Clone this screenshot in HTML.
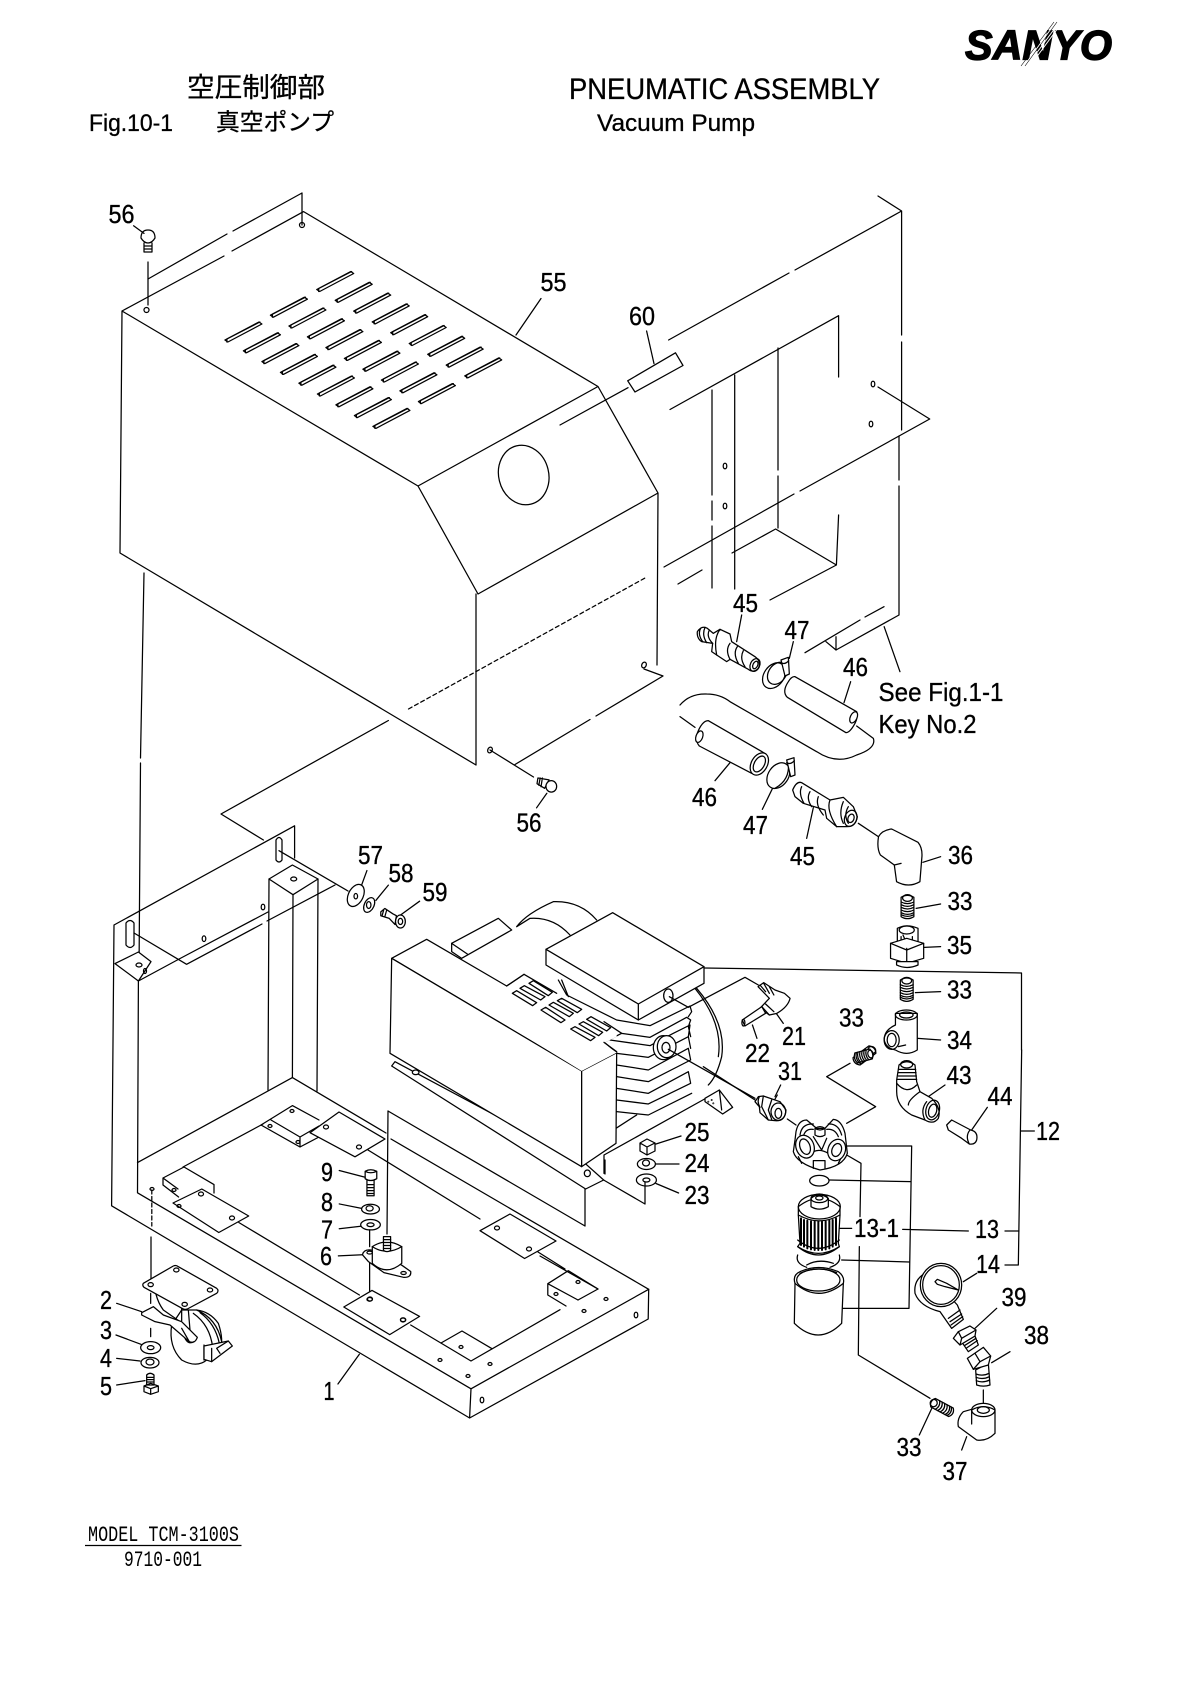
<!DOCTYPE html>
<html><head><meta charset="utf-8"><title>Pneumatic Assembly</title>
<style>
html,body{margin:0;padding:0;background:#fff}
svg{display:block}
svg *{vector-effect:non-scaling-stroke}
.l{fill:none;stroke:#000;stroke-width:1.25;stroke-linejoin:round;stroke-linecap:round}
.f{fill:#fff;stroke:#000;stroke-width:1.25;stroke-linejoin:round}
.t{font-family:"Liberation Sans",sans-serif;font-size:26px;fill:#000;text-anchor:middle;stroke:#000;stroke-width:.35}
.h{font-family:"Liberation Sans","Noto Sans CJK JP",sans-serif;fill:#000;stroke:#000;stroke-width:.3}
.m{font-family:"Liberation Mono",serif;fill:#000}
</style></head><body>
<svg width="1190" height="1682" viewBox="0 0 1190 1682" xmlns="http://www.w3.org/2000/svg">
<rect width="1190" height="1682" fill="#fff"/>
<defs>
<g id="s"><path class="f" d="M-18,9 L16,-9 L19,-7 L-15,11 Z"/><path class="l" d="M-16,11 L-16,8 L17,-9"/></g>
<g id="th"><path class="f" d="M-17,-30 Q0,-42 17,-30 L17,28 Q0,40 -17,28 Z"/><ellipse class="l" cx="0" cy="-28" rx="13" ry="10"/><path class="l" d="M-17,-16 Q0,-6 17,-16 M-17,-8 Q0,2 17,-8 M-17,0 Q0,10 17,0 M-17,8 Q0,18 17,8 M-17,16 Q0,26 17,16 M-17,22 Q0,32 17,22"/></g>
</defs>

<!-- header -->
<text class="h" x="187" y="97" font-size="27" textLength="138" lengthAdjust="spacingAndGlyphs">空圧制御部</text>
<text class="h" x="569" y="99" font-size="29.5" textLength="311" lengthAdjust="spacingAndGlyphs">PNEUMATIC ASSEMBLY</text>
<text class="h" x="89" y="131" font-size="24" textLength="84" lengthAdjust="spacingAndGlyphs">Fig.10-1</text>
<text class="h" x="216" y="130" font-size="23.5" textLength="118" lengthAdjust="spacingAndGlyphs">真空ポンプ</text>
<text class="h" x="597" y="131" font-size="24" textLength="158" lengthAdjust="spacingAndGlyphs">Vacuum Pump</text>
<text class="h" x="965" y="59.5" font-size="42" font-weight="bold" font-style="italic" textLength="147" lengthAdjust="spacingAndGlyphs" style="stroke-width:1.3">SANYO</text>
<path d="M1024,66 L1056,22 M1027,66 L1058,24 M1030,66 L1058,28" stroke="#fff" stroke-width="1" fill="none"/>
<path d="M1021,66 L1054,22 M1025,66 L1057,22" stroke="#000" stroke-width=".6" fill="none"/>

<!-- cover 55 -->
<g class="l">
<path class="l" d="M302,193 V225 M302,193 L233,231 M227,234 L148,279"/>
<path class="l" d="M122,311 L224,256 M232,251 L303.6,211.6 L598,386.5 L418,486 L122,311 L120,553 L476,765 V594 M418,486 L478,594 M598,386.5 L658,493 L478,594 M658,493 L657,665"/>
<path class="l" d="M644,669 L663,676 L596,716 M590,719.5 L515,764.5 M490,750 L533.5,777"/>
<path class="l" d="M408.5,709 L645,578" stroke-dasharray="4 3"/>
<path class="l" d="M388.4,720.5 L221,814 L263.4,840"/>
<path class="l" d="M148,262 V305"/>
<ellipse class="l" cx="302" cy="225" rx="2.5" ry="2.5"/>
<ellipse class="l" cx="146.5" cy="310" rx="2.5" ry="2.5"/>
<ellipse class="l" cx="490" cy="750" rx="2.2" ry="3" transform="rotate(25 490 750)"/>
<ellipse class="l" cx="644" cy="665" rx="2.2" ry="3" transform="rotate(25 644 665)"/>
<ellipse class="l" cx="523.7" cy="475" rx="25" ry="30" transform="rotate(-14 523.7 475)"/>
<path class="l" d="M541,298.5 L516,335 M646.6,331 L654,363.6 M133.6,225.8 L144,233.4"/>
<path class="l" d="M627.7,380.8 L675.5,352.8 L683,365.5 L635,392 Z M560,425 L628,387.7"/>
<!-- screw 56 top -->
<path class="l" d="M141,238 Q141,230 148,230 Q155,230 155,238 Q152,243 148,243 Q144,243 141,238 Z"/>
<path class="l" d="M144,243 V252 H152 V243 M144,246 H152 M144,249 H152"/>
</g>
<!-- louvers -->
<g>
<use href="#s" x="334.7" y="280.5"/><use href="#s" x="353.2" y="291.3"/><use href="#s" x="371.7" y="302.1"/><use href="#s" x="390.2" y="312.9"/><use href="#s" x="408.7" y="323.7"/><use href="#s" x="427.2" y="334.5"/><use href="#s" x="445.7" y="345.3"/><use href="#s" x="464.2" y="356.1"/><use href="#s" x="482.7" y="366.9"/>
<use href="#s" x="288.4" y="306.2"/><use href="#s" x="306.9" y="317"/><use href="#s" x="325.4" y="327.8"/><use href="#s" x="343.9" y="338.6"/><use href="#s" x="362.4" y="349.4"/><use href="#s" x="380.9" y="360.2"/><use href="#s" x="399.4" y="371"/><use href="#s" x="417.9" y="381.8"/><use href="#s" x="436.4" y="392.6"/>
<use href="#s" x="242.9" y="331"/><use href="#s" x="261.4" y="341.8"/><use href="#s" x="279.9" y="352.6"/><use href="#s" x="298.4" y="363.4"/><use href="#s" x="316.9" y="374.2"/><use href="#s" x="335.4" y="385"/><use href="#s" x="353.9" y="395.8"/><use href="#s" x="372.4" y="406.6"/><use href="#s" x="390.9" y="417.4"/>
</g>

<!-- right panel -->
<path class="l" d="M878,196 L901.6,211 V335 M901.6,342 V430 M899,436 V480 M899,486 V615 L836,650 M901.6,211 L795,270 M789,273 L668.6,340"/>
<path class="l" d="M805,652.7 L860,620 M865,617 L884,606.7 M836,636.7 V650 M826,641.7 L836,650"/>
<path class="l" d="M838.6,315.7 L670,409.5 M838.6,315.7 V377 M838.6,515 L836.4,565 L775.6,529 L732,553 M678,584 L702,570 M836.4,565 L770,600"/>
<path class="l" d="M778,348 V470 M778,476 V528 M734.7,375 V589 M712,390 V495 M712,501 V520 M712,526 V588"/>
<path class="l" d="M878,387 L929.7,419 L800,491 M794,494 L664,567"/>
<g class="l"><ellipse cx="873" cy="384" rx="1.8" ry="2.8"/><ellipse cx="871" cy="424" rx="1.8" ry="2.8"/><ellipse cx="725" cy="466" rx="1.8" ry="2.8"/><ellipse cx="725" cy="506" rx="1.8" ry="2.8"/></g>

<!-- main frame -->
<g>
<path class="l" d="M144,573 L140.5,758 M140.5,763 L139,975"/>
<path class="l" d="M114,925 L294.6,825.8 V858 M114,925 L111.6,1205.8 L469.6,1418 L648.2,1319 L648.7,1289.3 L471,1388.8 L137.5,1192.8 L138.4,981 M471,1388.8 L469.6,1418"/>
<path class="f" d="M115,963.6 L138.4,952 L151,961.6 L138.4,981 Z"/>
<ellipse class="l" cx="139" cy="965" rx="3" ry="2"/><ellipse class="l" cx="145" cy="971" rx="1.5" ry="2.5"/>
<path class="l" d="M138.4,981 L181,958 L268,912 M134,933 L186.6,964.3 L262,924 M267,921 L335,885 M279,850.7 L348,891"/>
<path class="l" d="M126,945 V923 Q130,918 134,923 V945 Q130,950 126,945 Z M276,860 V840 Q279,835 282,840 V860 Q279,864 276,860 Z"/>
<path class="f" d="M269,879 L292.4,865 L318,879 L293,894.7 Z"/>
<ellipse class="l" cx="293.7" cy="879" rx="3" ry="2"/>
<path class="l" d="M269,879 L268,1090 M293,894.7 L292.4,1077.6 M318,879 L317,1091"/>
<g class="l"><ellipse cx="263" cy="907" rx="1.8" ry="2.8"/><ellipse cx="204" cy="938.7" rx="1.8" ry="2.8"/></g>
<path class="l" d="M292.4,1077.6 L137.5,1162.6 M292.4,1077.6 L386,1133 M391,1139 L648.7,1289.3"/>
<!-- inner opening -->
<path class="l" d="M183,1167 L263,1124 M238.8,1222.5 L359.4,1295 M410.7,1325 L471,1361 L560,1309.7 M578,1300 L598,1289 L540,1256 M368,1150 L480,1219 M538,1252 L565,1269"/>
<path class="f" d="M480,1230.7 L510,1214 L556,1241 L524.6,1258.5 Z M173,1203 L201.8,1189 L248.7,1216 L218.8,1232.5 Z"/>
<path class="l" d="M163,1178 L184,1167 L214,1184.6 V1193 M163,1178 V1185 L178.6,1197 M163,1178 L178,1189"/>
<path class="l" d="M261,1125 L292.4,1105.6 L319,1120 M261,1125 L300,1147 V1137 L271,1120 M300,1147 L319,1137 M300,1137 L319,1126"/>
<path class="f" d="M310,1132.7 L339,1112 L385,1139 L355,1156.8 Z M343.8,1307 L372,1290.4 L419.6,1316.4 L389.7,1334.6 Z"/>
<path class="l" d="M441,1343 L462,1331 L492,1348.7 M547.8,1283.7 L568.3,1270.7 L598,1289 M547.8,1283.7 V1295 L566,1306 M547.8,1283.7 L578,1300"/>
<!-- frame holes -->
<g class="l">
<ellipse cx="370" cy="1299" rx="2.5" ry="2"/><ellipse cx="403" cy="1320" rx="2.5" ry="2"/>
<ellipse cx="497" cy="1228" rx="2.5" ry="2"/><ellipse cx="529" cy="1249" rx="2.5" ry="2"/>
<ellipse cx="232" cy="1218" rx="2.5" ry="2"/><ellipse cx="201" cy="1194" rx="2.5" ry="2"/><ellipse cx="179" cy="1206" rx="2" ry="1.5"/>
<ellipse cx="359" cy="1147" rx="2.5" ry="2"/><ellipse cx="326" cy="1127" rx="2.5" ry="2"/><ellipse cx="292" cy="1111" rx="2" ry="1.5"/><ellipse cx="270" cy="1126" rx="2" ry="1.5"/><ellipse cx="298" cy="1142" rx="2" ry="1.5"/>
<ellipse cx="461" cy="1347" rx="2" ry="1.5"/><ellipse cx="440" cy="1360" rx="2" ry="1.5"/><ellipse cx="490" cy="1364" rx="2" ry="1.5"/><ellipse cx="468" cy="1376" rx="2" ry="1.5"/>
<ellipse cx="578" cy="1282" rx="2" ry="1.5"/><ellipse cx="556" cy="1294" rx="2" ry="1.5"/><ellipse cx="606" cy="1299" rx="2" ry="1.5"/><ellipse cx="584" cy="1311" rx="2" ry="1.5"/>
<ellipse cx="636" cy="1315" rx="1.8" ry="2.8"/><ellipse cx="482" cy="1400" rx="1.8" ry="2.8"/>
<ellipse cx="152" cy="1189" rx="2" ry="1.5"/><ellipse cx="174" cy="1190" rx="2" ry="1.5"/>
</g>
<path class="l" d="M151.8,1190 V1226" stroke-dasharray="4 2.5"/>
<path class="l" d="M151,1237 V1282"/>
</g>

<!-- sheet lines under motor -->
<path class="l" d="M388,1111 L387,1234 M388,1111 L585,1226 V1186 M603.6,1180 L645,1204 V1182 M605,1160 V1174"/>

<!-- caster -->
<g transform="translate(100,1260) scale(.33333)">
<path class="l" d="M152,100 V130 M152,205 V230"/>
<path class="f" d="M215,195 Q205,260 245,300 Q290,325 320,300 L360,270 Q372,240 355,190 Q330,155 290,150 L245,150 Z"/>
<path class="l" d="M168,103 Q175,130 190,150 L240,185 M245,145 V182 M265,150 L270,210 M280,160 Q330,195 338,262 M300,158 Q345,190 358,250 M290,150 Q350,175 365,245 M312,255 V300"/>
<path class="f" d="M125,158 L160,140 L190,165 L245,185 L292,232 Q285,252 268,245 L210,195 L165,185 L125,165 Z"/>
<path class="l" d="M245,205 L268,245 M255,235 Q265,255 282,245"/>
<path class="f" d="M312,258 L385,243 L397,258 L335,305 L312,298 Z"/>
<path class="l" d="M350,265 L385,243 M350,265 L360,280 M335,265 V305"/>
<path class="f" d="M130,70 L220,18 Q228,14 235,20 L350,85 Q358,92 350,100 L262,147 Q255,150 248,146 L132,82 Q126,76 130,70 Z"/>
<g class="l">
<ellipse cx="152" cy="74" rx="8" ry="6"/><ellipse cx="229" cy="30" rx="8" ry="6"/><ellipse cx="330" cy="90" rx="8" ry="6"/><ellipse cx="254" cy="133" rx="8" ry="6"/>
<path d="M50,130 L125,155 M48,225 L123,253 M50,295 L120,303 M50,375 L135,362"/>
<ellipse cx="152" cy="263" rx="30" ry="18"/><ellipse cx="152" cy="263" rx="10" ry="6"/>
<ellipse cx="150" cy="308" rx="27" ry="16"/><ellipse cx="150" cy="306" rx="12" ry="9"/>
<path d="M140,345 Q150,335 162,345 V375 H140 Z M140,352 H162 M140,359 H162 M140,366 H162"/>
<path d="M132,378 L152,370 L175,378 V395 L152,403 L132,395 Z M132,378 L152,386 L175,378 M152,386 V403"/>
</g>
</g>

<!-- 1, 9,8,7,6 -->
<g transform="translate(0,1100) scale(.4464,.3712)">
<g class="l">
<path d="M757,765 L805,685"/>
<path d="M818,192 Q830,184 844,192 V212 Q830,222 818,212 Z M818,192 Q830,200 844,192 M822,215 V258 H838 V215 M822,228 H838 M822,236 H838 M822,244 H838 M822,252 H838"/>
<ellipse cx="830" cy="294" rx="20" ry="13"/><ellipse cx="828" cy="292" rx="8" ry="7"/>
<ellipse cx="830" cy="336" rx="22" ry="14"/><ellipse cx="830" cy="336" rx="8" ry="5"/>
<path d="M760,190 L818,208 M760,280 L810,292 M760,347 L808,340 M758,420 L812,417 M828,350 V395 M828,420 V515"/>
</g>
<path class="f" d="M812,417 Q815,400 835,405 L900,445 L920,462 Q922,478 905,478 L860,465 L825,435 Z"/>
<path class="f" d="M834,395 Q866,370 900,395 V440 Q866,475 834,440 Z"/>
<path class="l" d="M834,395 Q866,420 900,395"/>
<path class="f" d="M859,368 H875 V405 Q867,412 859,405 Z"/>
<path class="l" d="M859,376 H875 M859,384 H875 M859,392 H875 M859,400 H875"/>
<ellipse class="l" cx="828" cy="411" rx="6" ry="4"/><ellipse class="l" cx="904" cy="466" rx="6" ry="4"/>
<ellipse class="l" cx="828" cy="537" rx="6" ry="5"/><ellipse class="l" cx="903" cy="592" rx="6" ry="5"/>
</g>

<!-- motor -->
<g transform="translate(380,880) scale(.33333)">
<path d="M410,140 Q440,100 520,65 Q600,62 650,120 L570,170 Z" fill="#fff"/>
<path class="l" d="M410,140 Q440,100 520,65 Q600,62 650,120 M410,140 L450,115 Q520,110 570,165"/>
<path class="f" d="M215,190 L355,115 L395,150 L245,235 L215,215 Z"/>
<path class="l" d="M215,190 L262,222"/>
<!-- bell -->
<path class="l" d="M950,325 Q1040,430 1025,530 Q1010,590 985,615 M945,325 Q1030,430 1015,530"/>
<!-- fins -->
<path d="M530,290 L560,345 L710,420 L810,437 L925,375 L935,640 L810,705 L710,690 V520 Z" fill="#fff"/>
<path class="l" d="M535,300 L560,345 L710,420 L810,437 L930,378 L935,395 L925,410 M545,300 L565,350"/>
<path class="l" d="M725,460 L810,472 L920,412 L932,420 L925,440 M672,487 L725,460 M690,480 L810,497 L880,460 L930,435 L925,470 L805,532 L710,520 M710,555 L805,570 L925,505 L932,540 L805,605 L710,590 M710,625 L805,640 L925,575 L932,610 L805,672 L710,660 M710,695 L805,705 L935,640 M925,470 L932,505 M925,440 L932,470"/>
<!-- foot / base -->
<path class="l" d="M672,825 L990,648 M672,825 V880 M708,745 L770,705"/>
<path class="f" d="M975,655 L1018,630 L1058,682 L1028,702 L975,665 Z"/>
<path class="l" d="M1018,630 L1025,690"/>
<!-- flange -->
<path class="f" d="M45,545 L35,558 L617,927 L671,900 L615,850 Z"/>
<ellipse class="f" cx="107" cy="577" rx="10" ry="7"/>
<!-- cover -->
<path class="f" d="M35,235 L140,178 L380,318 L432,283 L710,518 L605,573 Z"/>
<path class="f" d="M35,235 L605,573 V860 L30,520 Z"/>
<path class="f" d="M605,573 L710,518 L708,790 L605,860 Z"/>
<ellipse class="f" cx="622" cy="880" rx="9" ry="10"/>
<path d="M432,283 L710,440 V470 L670,490 L710,518 L605,573 L375,432 Z" fill="#fff"/>
<path class="l" d="M432,283 L530,340 M672,425 L725,460 M380,318 L432,283 M672,487 L710,515"/>
<!-- vents -->
<path class="f" d="M397,340 L410,332 L470,368 L458,377 Z M420,325 L433,317 L495,350 L482,360 Z M447,310 L460,302 L517,337 L505,347 Z M483,390 L497,382 L555,420 L543,428 Z M507,375 L520,367 L580,400 L568,410 Z M532,362 L545,355 L605,388 L592,398 Z M572,447 L585,440 L645,472 L632,482 Z M597,432 L610,425 L668,457 L656,467 Z M620,418 L633,410 L692,443 L680,453 Z"/>
<!-- control box -->
<path class="f" d="M498,208 L698,98 L972,260 V310 L775,420 L498,255 Z"/>
<path class="l" d="M498,208 L775,372 L972,260 M775,372 V420"/>
<ellipse class="f" cx="865" cy="347" rx="14" ry="20"/>
<path class="l" d="M868,350 L925,382 L1095,292 L1135,315"/>
<ellipse class="f" cx="850" cy="503" rx="30" ry="36"/><ellipse class="f" cx="860" cy="500" rx="28" ry="33"/><ellipse class="l" cx="858" cy="503" rx="12" ry="16"/>
<path class="l" d="M865,508 L1125,655"/>
<circle class="l" cx="985" cy="665" r="1"/><circle class="l" cx="1000" cy="670" r="1"/><circle class="l" cx="995" cy="660" r="1"/>
</g>

<!-- 56 lower, 57,58,59 -->
<g transform="translate(0,600) scale(.4464,.3827)">
<g class="l">
<path d="M1225,505 L1202,543 M822,707 L810,745 M870,745 L842,785 M940,787 L895,825"/>
<path d="M1205,465 L1230,470 L1220,492 L1203,480 Z M1210,465 L1207,484 M1215,465 L1212,488"/>
<ellipse class="f" cx="1235" cy="487" rx="12" ry="15"/>
<ellipse cx="797" cy="772" rx="17" ry="30" transform="rotate(20 797 772)"/><ellipse cx="797" cy="774" rx="4" ry="7"/>
<ellipse cx="827" cy="797" rx="11" ry="20" transform="rotate(20 827 797)"/><ellipse cx="826" cy="797" rx="5" ry="9"/>
<path d="M853,815 L862,806 L880,820 L888,825 L885,848 L872,832 L853,825 Z M860,808 L856,825 M866,811 L862,828"/>
<ellipse class="f" cx="897" cy="840" rx="11" ry="17"/><ellipse cx="897" cy="840" rx="5" ry="8"/>
</g>
</g>

<!-- 12 bracket top -->
<path class="l" d="M704,968 L1021.5,973 V1050"/>

<!-- hoses / 45 / 47 -->
<g transform="translate(680,610) scale(.33333)">
<g class="l">
<path d="M185,15 L170,95 M340,95 L328,145 M512,215 L492,278 M150,458 L105,512 M280,530 L247,598 M400,593 L380,685 M535,640 L595,680 M0,320 L45,352"/>
<path d="M0,285 Q30,250 80,252 Q120,252 150,275 L410,425 Q470,465 530,435 Q590,415 580,385 L530,348"/>
<!-- 45 top -->
<path class="f" d="M52,65 Q65,45 82,55 L100,70 L120,58 L150,72 L155,95 L225,140 Q245,155 235,175 Q222,190 205,178 L150,148 L140,155 L110,135 L95,125 L98,100 L65,95 Q50,85 52,65 Z"/>
<path d="M62,55 Q52,72 68,95 M75,52 Q65,75 80,98 M88,60 Q78,80 98,100 M120,58 Q100,85 110,135 M150,100 Q135,120 150,148 M172,110 Q158,130 175,160 M190,122 Q178,145 195,170"/>
<ellipse cx="225" cy="165" rx="14" ry="20" transform="rotate(25 225 165)"/><ellipse cx="226" cy="165" rx="7" ry="12" transform="rotate(25 226 165)"/>
<!-- clamp top -->
<ellipse class="f" cx="282" cy="197" rx="30" ry="42" transform="rotate(35 282 197)"/><ellipse cx="292" cy="190" rx="26" ry="36" transform="rotate(35 292 190)"/>
<path class="f" d="M303,150 L325,142 L328,192 L315,198 Z"/>
<path d="M303,158 Q315,165 326,152"/>
<!-- hose upper -->
<path class="f" d="M345,200 L530,305 Q535,320 525,340 Q510,368 498,368 L322,262 Q305,245 325,215 Q335,198 345,200 Z"/>
<ellipse class="f" cx="521" cy="322" rx="10" ry="18" transform="rotate(25 521 322)"/>
<!-- hose lower -->
<path class="f" d="M85,332 L258,432 L215,490 L58,408 Q48,398 50,375 Q65,332 85,332 Z"/>
<ellipse class="f" cx="58" cy="380" rx="10" ry="18" transform="rotate(20 58 380)"/>
<ellipse class="f" cx="238" cy="462" rx="24" ry="36" transform="rotate(30 238 462)"/><ellipse cx="238" cy="462" rx="15" ry="26" transform="rotate(30 238 462)"/>
<!-- clamp lower -->
<ellipse class="f" cx="295" cy="497" rx="30" ry="42" transform="rotate(35 295 497)"/><path d="M285,535 Q330,510 325,460"/>
<path class="f" d="M320,450 L342,443 L345,495 L332,500 Z"/>
<path d="M320,458 Q332,465 343,452"/>
<!-- 45 lower -->
<path class="f" d="M338,540 Q350,512 365,518 L450,570 L490,562 L520,590 L532,620 Q528,650 500,650 L470,650 L440,625 L435,600 L370,580 L345,560 Z"/>
<path d="M365,530 Q355,550 372,580 M390,545 Q378,565 395,590 M415,560 Q405,585 430,615 M450,570 Q438,600 470,650 M490,575 Q475,610 490,640 M505,590 Q490,615 505,640"/>
<ellipse cx="512" cy="625" rx="18" ry="25" transform="rotate(20 512 625)"/><ellipse cx="513" cy="625" rx="9" ry="13" transform="rotate(20 513 625)"/>
</g>
</g>

<!-- fittings right column -->
<g transform="translate(600,600) scale(.37636,.33333)">
<g class="l">
<path d="M858,787 L905,770 M840,925 L905,912 M862,1042 L905,1040 M838,1178 L905,1175 M845,1315 L905,1320 M755,80 L797,215 M465,1235 L487,1270 M405,1275 L417,1315 M480,1455 L465,1490"/>
<path class="f" d="M740,710 Q750,690 775,687 L845,727 Q858,745 855,775 L850,845 Q820,865 788,845 L782,795 L745,765 Q735,745 740,710 Z"/>
<path d="M782,795 L800,790"/>
<!-- 35 -->
<path class="f" d="M790,985 Q815,970 845,985 V1035 L790,1035 Z"/>
<ellipse class="l" cx="815" cy="990" rx="20" ry="12"/>
<path d="M805,1005 L815,1030 M800,1010 V1040 M830,1010 V1040"/>
<path class="f" d="M772,1030 L815,1015 L860,1030 V1075 L815,1090 L772,1075 Z"/>
<path d="M815,1045 V1090 M772,1030 L815,1050 L860,1030"/>
<path class="f" d="M788,1085 L845,1085 V1095 Q815,1110 788,1095 Z"/>
<!-- 34 -->
<path class="f" d="M785,1240 L843,1240 V1350 Q815,1370 785,1350 Q760,1345 755,1320 Q755,1290 785,1275 Z"/>
<ellipse class="l" cx="814" cy="1245" rx="29" ry="15"/><ellipse cx="814" cy="1245" rx="18" ry="9"/>
<ellipse class="l" cx="775" cy="1320" rx="20" ry="28"/><ellipse cx="775" cy="1320" rx="12" ry="20"/>
<path d="M793,1340 L812,1335"/>
<!-- 21/22 -->
<path class="f" d="M420,1160 L435,1148 L465,1170 L490,1180 L505,1195 Q500,1220 470,1240 L450,1245 L425,1225 L450,1195 Z"/>
<path d="M425,1155 L440,1175 M435,1150 L450,1180 M450,1160 L462,1185 M440,1212 L462,1235 M430,1220 L450,1245"/>
<path class="f" d="M430,1220 L378,1260 L385,1278 L440,1240 Z"/>
<ellipse class="l" cx="381" cy="1268" rx="4" ry="10"/>
</g>
<use href="#th" x="817" y="922"/>
<use href="#th" x="815" y="1170"/>
<g transform="translate(702,1367) rotate(50) scale(.85 .95)"><use href="#th"/></g>
</g>

<!-- fittings lower right -->
<g transform="translate(700,1050) scale(.33333)">
<g class="l">
<path d="M450,40 L380,80 L527,170 L440,220 M165,150 L10,50 M262,207 L288,225 M232,135 L215,165 M685,140 L735,105 M815,240 L862,172"/>
<path d="M965,0 L955,645 H915 M957,543 H915 M963,243 H1003"/>
<path d="M440,288 H635 L627,775 H428 M388,390 L632,395 M425,630 L628,636 M412,535 H455 M608,538 L805,543"/>
<path d="M435,312 L483,340 L480,500 M478,590 L475,915 L690,1045"/>
<!-- 31 -->
<path class="f" d="M165,155 L175,140 L190,138 L240,155 L258,180 Q255,215 225,212 L205,210 L180,188 L178,170 Z"/>
<path d="M178,140 Q170,155 180,172 M190,138 L185,170 L205,210 M215,150 L205,180 L215,208"/>
<ellipse cx="235" cy="185" rx="22" ry="26"/><ellipse cx="235" cy="190" rx="10" ry="15"/>
<ellipse cx="358" cy="392" rx="29" ry="16"/>
<!-- element -->
<path class="f" d="M295,470 Q358,420 420,470 V495 L415,580 L418,590 Q355,630 293,590 L300,580 L295,495 Z"/>
<ellipse class="l" cx="358" cy="470" rx="63" ry="37"/>
<path class="f" d="M333,445 Q358,425 385,445 V470 Q358,485 333,470 Z"/><ellipse class="l" cx="358" cy="445" rx="25" ry="13"/><ellipse cx="358" cy="444" rx="11" ry="6"/>
<path d="M295,495 Q358,530 420,495" />
<path d="M303,505 V585 M312,510 V590 M322,512 V595 M333,514 V598 M344,515 V600 M355,515 V600 M366,515 V600 M377,514 V598 M388,512 V595 M398,510 V590 M408,505 V585" stroke-width="2"/>
<path d="M293,570 Q355,620 418,570 M293,590 Q355,640 418,590"/>
<path d="M293,615 Q285,640 320,652 M418,615 Q425,640 390,652 M320,645 Q355,625 400,640"/>
<!-- bowl -->
<path class="f" d="M285,700 Q277,675 300,665 Q355,640 415,665 Q435,680 430,700 L425,820 Q355,890 283,820 Z"/>
<ellipse class="l" cx="355" cy="690" rx="65" ry="33"/>
<path d="M285,700 Q355,760 430,700 M300,670 Q355,645 410,668"/>
<!-- 43 -->
<path class="f" d="M597,45 Q620,25 645,45 L650,95 L660,125 L695,145 Q725,175 715,205 Q700,225 675,210 L635,195 Q590,170 590,125 L590,90 Z"/>
<path d="M597,58 H647 M595,68 H648 M595,78 H649 M592,88 H650 M590,100 Q620,135 650,105 M625,165 Q625,150 660,125 M680,155 Q660,180 675,210"/>
<ellipse cx="620" cy="43" rx="18" ry="11"/>
<ellipse cx="698" cy="180" rx="20" ry="30" transform="rotate(15 698 180)"/><ellipse cx="698" cy="182" rx="12" ry="20" transform="rotate(15 698 182)"/>
<!-- 44 -->
<path class="f" d="M740,225 L755,210 L812,240 Q835,245 830,270 Q825,285 808,282 L785,265 L745,240 Z"/>
<path d="M810,240 Q795,258 808,282"/>
</g>
<g transform="translate(490,18) rotate(75) scale(.9,.8)"><use href="#th"/></g>
</g>

<!-- filter head -->
<g transform="translate(770,1100) scale(.33333)">
<path class="f" d="M75,120 L70,155 Q80,190 150,210 Q220,200 232,160 L225,100 Q215,60 190,58 L165,85 H140 L110,60 Q85,60 78,95 Z"/>
<g class="l">
<path d="M90,105 Q95,70 130,72 M100,110 Q105,85 130,88 M215,105 Q205,70 175,72 M205,110 Q195,85 170,88"/>
<path d="M135,85 Q150,75 165,85 V105 Q150,115 135,105 Z M135,85 Q150,95 165,85"/>
<path d="M130,110 L155,150 M170,115 L155,150 M130,155 Q150,145 175,160"/>
<path d="M130,182 V205 M165,182 V205 M130,182 H165 M85,170 L95,190 M215,170 L205,190"/>
</g>
<ellipse class="f" cx="105" cy="140" rx="27" ry="35" transform="rotate(-20 105 140)"/><ellipse class="l" cx="105" cy="140" rx="15" ry="24" transform="rotate(-20 105 140)"/>
<ellipse class="f" cx="200" cy="150" rx="26" ry="33" transform="rotate(20 200 150)"/><ellipse class="l" cx="200" cy="150" rx="14" ry="20" transform="rotate(20 200 150)"/>
</g>

<!-- gauge and below -->
<g transform="translate(880,1250) scale(.33333)">
<g class="l">
<path d="M250,95 L290,70 M285,235 L350,175 M335,338 L390,305 M160,465 L118,555 M260,560 L245,600 M310,420 V460"/>
<path class="f" d="M135,70 Q100,90 105,130 Q120,170 180,185 L215,235 L250,208 L232,165 L200,130 Z"/>
<path d="M205,205 L240,180 M210,215 L245,192 M213,225 L248,200"/>
<ellipse class="f" cx="183" cy="105" rx="62" ry="65"/><ellipse cx="183" cy="105" rx="55" ry="58"/>
<path d="M165,95 L172,88 L200,100 L235,120 L195,110 L172,103 Z"/>
<!-- 39 -->
<path class="f" d="M248,280 L265,305 L295,285 L285,258 Z"/>
<path d="M253,287 L288,265 M258,295 L292,272"/>
<path class="f" d="M220,265 L240,285 L285,258 L288,240 L270,228 L235,245 Z"/>
<path d="M235,245 L245,265 L240,285 M245,265 L288,240"/>
<!-- 38 -->
<path class="f" d="M287,360 L290,405 Q310,412 330,405 L325,340 Z"/>
<path d="M288,372 Q308,380 327,370 M288,382 Q308,390 328,380 M289,392 Q308,400 329,390"/>
<path class="f" d="M262,325 L310,292 L332,318 L325,345 L280,358 Z"/>
<path d="M285,310 L300,335 L280,358 M300,335 L332,318"/>
<!-- 37 -->
<path class="f" d="M275,480 Q310,460 345,480 V550 Q320,575 290,570 L235,530 Q230,505 250,485 L275,478 Z"/>
<ellipse cx="310" cy="480" rx="35" ry="20"/><ellipse cx="310" cy="480" rx="18" ry="10"/>
<path d="M275,480 V522"/>
</g>
<g transform="translate(187,473) rotate(-62) scale(.85,1.05)"><use href="#th"/></g>
</g>

<!-- 25 24 23 -->
<g class="l">
<path d="M656,1144 L681,1136 M656,1164 L679,1164 M656,1183.5 L678.6,1193"/>
<path d="M640,1143 L647,1139 L655,1143 V1151 L647,1155 L640,1151 Z M640,1143 L647,1147 L655,1143 M647,1147 V1155"/>
<ellipse cx="646.4" cy="1164" rx="9" ry="5.5"/><ellipse cx="646" cy="1163" rx="3.5" ry="3"/>
<ellipse cx="646.4" cy="1180" rx="10" ry="6"/><ellipse cx="646.4" cy="1180" rx="3.5" ry="2"/>
</g>

<!-- labels -->
<g>
<text class="t" x="121.5" y="223" textLength="26" lengthAdjust="spacingAndGlyphs">56</text>
<text class="t" x="553.5" y="291" textLength="26" lengthAdjust="spacingAndGlyphs">55</text>
<text class="t" x="642" y="325" textLength="26" lengthAdjust="spacingAndGlyphs">60</text>
<text class="t" x="745.5" y="612" textLength="25" lengthAdjust="spacingAndGlyphs">45</text>
<text class="t" x="797" y="639" textLength="25" lengthAdjust="spacingAndGlyphs">47</text>
<text class="t" x="855.5" y="676" textLength="25" lengthAdjust="spacingAndGlyphs">46</text>
<text class="t" x="704.5" y="806" textLength="25" lengthAdjust="spacingAndGlyphs">46</text>
<text class="t" x="755.5" y="834" textLength="25" lengthAdjust="spacingAndGlyphs">47</text>
<text class="t" x="802.5" y="865" textLength="25" lengthAdjust="spacingAndGlyphs">45</text>
<text class="t" x="960.5" y="864" textLength="25" lengthAdjust="spacingAndGlyphs">36</text>
<text class="t" x="960" y="910" textLength="25" lengthAdjust="spacingAndGlyphs">33</text>
<text class="t" x="959.5" y="954" textLength="25" lengthAdjust="spacingAndGlyphs">35</text>
<text class="t" x="959.5" y="998.5" textLength="25" lengthAdjust="spacingAndGlyphs">33</text>
<text class="t" x="851.5" y="1026.5" textLength="25" lengthAdjust="spacingAndGlyphs">33</text>
<text class="t" x="959.5" y="1049" textLength="25" lengthAdjust="spacingAndGlyphs">34</text>
<text class="t" x="794" y="1045" textLength="24" lengthAdjust="spacingAndGlyphs">21</text>
<text class="t" x="757.5" y="1062" textLength="25" lengthAdjust="spacingAndGlyphs">22</text>
<text class="t" x="790" y="1080" textLength="24" lengthAdjust="spacingAndGlyphs">31</text>
<text class="t" x="959" y="1084" textLength="25" lengthAdjust="spacingAndGlyphs">43</text>
<text class="t" x="1000" y="1105" textLength="25" lengthAdjust="spacingAndGlyphs">44</text>
<text class="t" x="1048" y="1140" textLength="24" lengthAdjust="spacingAndGlyphs">12</text>
<text class="t" x="876.5" y="1237" textLength="45" lengthAdjust="spacingAndGlyphs">13-1</text>
<text class="t" x="987" y="1238" textLength="24" lengthAdjust="spacingAndGlyphs">13</text>
<text class="t" x="988" y="1273" textLength="24" lengthAdjust="spacingAndGlyphs">14</text>
<text class="t" x="1014" y="1306" textLength="25" lengthAdjust="spacingAndGlyphs">39</text>
<text class="t" x="1036.5" y="1344" textLength="25" lengthAdjust="spacingAndGlyphs">38</text>
<text class="t" x="909" y="1456" textLength="25" lengthAdjust="spacingAndGlyphs">33</text>
<text class="t" x="955" y="1480" textLength="25" lengthAdjust="spacingAndGlyphs">37</text>
<text class="t" x="529" y="831.5" textLength="25" lengthAdjust="spacingAndGlyphs">56</text>
<text class="t" x="370.5" y="864" textLength="25" lengthAdjust="spacingAndGlyphs">57</text>
<text class="t" x="401" y="882" textLength="25" lengthAdjust="spacingAndGlyphs">58</text>
<text class="t" x="435" y="901" textLength="25" lengthAdjust="spacingAndGlyphs">59</text>
<text class="t" x="697" y="1141" textLength="25" lengthAdjust="spacingAndGlyphs">25</text>
<text class="t" x="697" y="1172" textLength="25" lengthAdjust="spacingAndGlyphs">24</text>
<text class="t" x="697" y="1204" textLength="25" lengthAdjust="spacingAndGlyphs">23</text>
<text class="t" x="327" y="1181" textLength="12" lengthAdjust="spacingAndGlyphs">9</text>
<text class="t" x="327" y="1211" textLength="12" lengthAdjust="spacingAndGlyphs">8</text>
<text class="t" x="327" y="1238.5" textLength="12" lengthAdjust="spacingAndGlyphs">7</text>
<text class="t" x="326" y="1265" textLength="12" lengthAdjust="spacingAndGlyphs">6</text>
<text class="t" x="106" y="1309" textLength="12" lengthAdjust="spacingAndGlyphs">2</text>
<text class="t" x="106" y="1339" textLength="12" lengthAdjust="spacingAndGlyphs">3</text>
<text class="t" x="106" y="1367" textLength="12" lengthAdjust="spacingAndGlyphs">4</text>
<text class="t" x="106" y="1395" textLength="12" lengthAdjust="spacingAndGlyphs">5</text>
<text class="t" x="329" y="1400" textLength="11" lengthAdjust="spacingAndGlyphs">1</text>
<text class="h" x="878.5" y="701" font-size="26" textLength="125" lengthAdjust="spacingAndGlyphs">See Fig.1-1</text>
<text class="h" x="878.5" y="733" font-size="26" textLength="98" lengthAdjust="spacingAndGlyphs">Key No.2</text>
<text class="m" x="88" y="1541" font-size="22" textLength="151" lengthAdjust="spacingAndGlyphs">MODEL TCM-3100S</text>
<text class="m" x="124" y="1566" font-size="22" textLength="78" lengthAdjust="spacingAndGlyphs">9710-001</text>
</g>
<line x1="85" y1="1545.5" x2="241.5" y2="1545.5" stroke="#000" stroke-width="1.2"/>
</svg>
</body></html>
